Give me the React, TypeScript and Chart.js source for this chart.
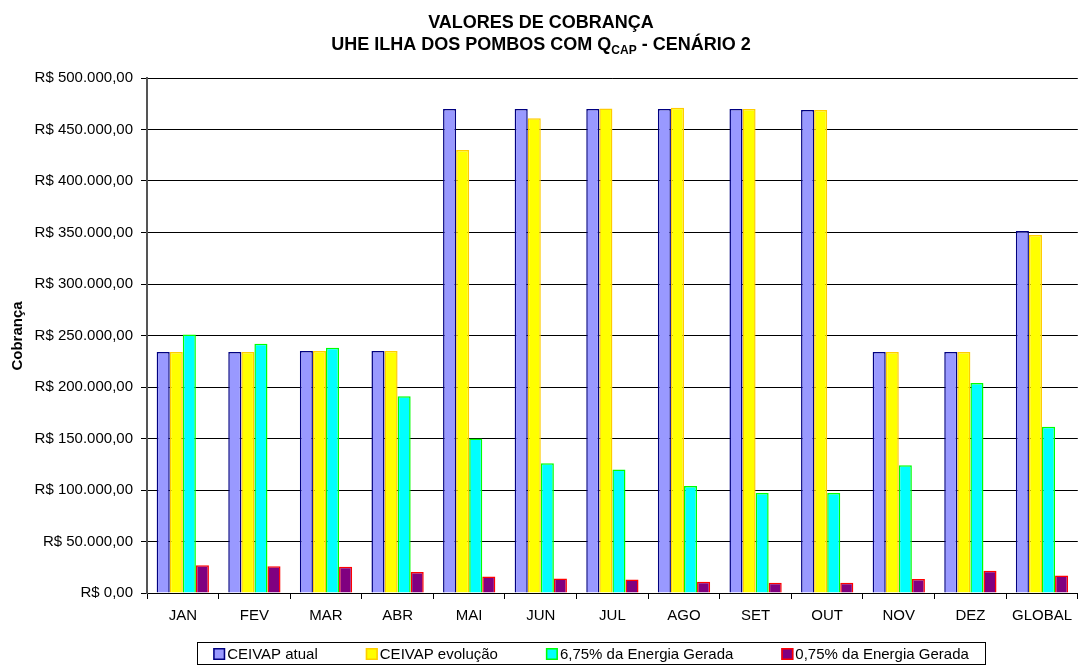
import React, { useEffect, useRef } from "react";
import { Chart, registerables } from "chart.js";

Chart.register(...registerables);

const categories = ["JAN", "FEV", "MAR", "ABR", "MAI", "JUN", "JUL", "AGO", "SET", "OUT", "NOV", "DEZ", "GLOBAL"];
const ceivapAtual = [234000, 234000, 235000, 235000, 470000, 470000, 470000, 470000, 470000, 469000, 234000, 234000, 351500];
const ceivapEvolucao = [234000, 234000, 235000, 235000, 430000, 461000, 470500, 471000, 470000, 469000, 234000, 234000, 347500];
const energia675 = [251000, 242000, 238000, 191000, 150000, 126000, 120000, 104000, 97000, 97000, 124000, 204000, 161500];
const energia075 = [27000, 26000, 25500, 20500, 16000, 14000, 13000, 11000, 10000, 10000, 13500, 21500, 17000];
const seriesNames = ["CEIVAP atual", "CEIVAP evolução", "6,75% da Energia Gerada", "0,75% da Energia Gerada"];
const yTicks = [0, 50000, 100000, 150000, 200000, 250000, 300000, 350000, 400000, 450000, 500000];

const FONT = "'Liberation Sans', Arial, sans-serif";

function formatBRL(v: number): string {
  const int = Math.round(v).toString().replace(/\B(?=(\d{3})+(?!\d))/g, ".");
  return "R$ " + int + ",00";
}

const decorPlugin = {
  id: "decor",
  afterDraw(chart: any) {
    const ctx = chart.ctx;
    ctx.save();
    ctx.fillStyle = "#000";
    ctx.textBaseline = "alphabetic";
    const cx = 541;
    ctx.font = `bold 18px ${FONT}`;
    ctx.textAlign = "center";
    ctx.fillText("VALORES DE COBRANÇA", cx, 28);
    const a = "UHE ILHA DOS POMBOS COM Q";
    const sub = "CAP";
    const b = " - CENÁRIO 2";
    ctx.font = `bold 18px ${FONT}`;
    const wa = ctx.measureText(a).width;
    const wb = ctx.measureText(b).width;
    ctx.font = `bold 12px ${FONT}`;
    const ws = ctx.measureText(sub).width;
    const total = wa + ws + wb;
    let x = cx - total / 2;
    ctx.textAlign = "left";
    ctx.font = `bold 18px ${FONT}`;
    ctx.fillText(a, x, 50);
    x += wa;
    ctx.font = `bold 12px ${FONT}`;
    ctx.fillText(sub, x, 54);
    x += ws;
    ctx.font = `bold 18px ${FONT}`;
    ctx.fillText(b, x, 50);

    // y axis title
    ctx.save();
    ctx.translate(22, 336);
    ctx.rotate(-Math.PI / 2);
    ctx.textAlign = "center";
    ctx.font = `bold 15px ${FONT}`;
    ctx.fillText("Cobrança", 0, 0);
    ctx.restore();

    // legend
    const ds = chart.data.datasets;
    const box = 12;
    const gapBoxText = 2;
    const spacing = 48;
    ctx.font = `15px ${FONT}`;
    const widths = ds.map((d: any) => box + gapBoxText + ctx.measureText(d.label).width);
    const totalW = widths.reduce((s: number, w: number) => s + w, 0) + spacing * (ds.length - 1);
    const frameL = 197, frameR = 985, frameT = 642, frameB = 664;
    const center = (frameL + frameR) / 2;
    let lx = center - totalW / 2;
    const midY = 654;
    ctx.strokeStyle = "#000";
    ctx.lineWidth = 1;
    ctx.strokeRect(frameL + 0.5, frameT + 0.5, frameR - frameL, frameB - frameT);
    ds.forEach((d: any, i: number) => {
      ctx.fillStyle = d.backgroundColor;
      ctx.fillRect(lx, midY - box / 2, box, box);
      ctx.strokeStyle = d.borderColor;
      ctx.lineWidth = 1.5;
      ctx.strokeRect(lx + 0.75, midY - box / 2 + 0.75, box - 1.5, box - 1.5);
      ctx.fillStyle = "#000";
      ctx.textAlign = "left";
      ctx.textBaseline = "middle";
      ctx.fillText(d.label, lx + box + gapBoxText, midY + 1);
      lx += widths[i] + spacing;
    });
    ctx.restore();
  },
};

export default function App() {
  const ref = useRef<HTMLCanvasElement | null>(null);
  useEffect(() => {
    document.body.style.margin = "0";
    const canvas = ref.current;
    if (!canvas) return;
    const chart = new Chart(canvas, {
      type: "bar",
      data: {
        labels: categories,
        datasets: [
          { label: seriesNames[0], data: ceivapAtual, backgroundColor: "#9999FF", borderColor: "#000080", borderWidth: 1.5 },
          { label: seriesNames[1], data: ceivapEvolucao, backgroundColor: "#FFFF00", borderColor: "#FFCC00", borderWidth: 1.5 },
          { label: seriesNames[2], data: energia675, backgroundColor: "#00FFFF", borderColor: "#00FF00", borderWidth: 1.5 },
          { label: seriesNames[3], data: energia075, backgroundColor: "#800080", borderColor: "#FF0000", borderWidth: 1.5 },
        ],
      },
      options: {
        responsive: false,
        animation: false,
        datasets: { bar: { barPercentage: 1, categoryPercentage: 0.73 } },
        layout: { padding: { top: 78, right: 0, left: 0, bottom: 0 } },
        plugins: {
          title: { display: false },
          tooltip: { enabled: false },
          legend: { display: false },
        },
        scales: {
          x: {
            afterFit(scale: any) { scale.height = 72; },
            grid: { display: true, drawOnChartArea: false, drawTicks: true, tickLength: 6, color: "#000", offset: true },
            border: { display: true, color: "#000", width: 1 },
            ticks: { font: { family: FONT, size: 15 }, color: "#000", padding: 8, maxRotation: 0, autoSkip: false },
          },
          y: {
            min: 0,
            max: 500000,
            afterFit(scale: any) { scale.width = 147; },
            afterBuildTicks(scale: any) { scale.ticks = yTicks.map((v) => ({ value: v })); },
            grid: { color: "#000", lineWidth: 1, tickLength: 6, drawTicks: true },
            border: { display: true, color: "#555", width: 2 },
            ticks: { font: { family: FONT, size: 15 }, color: "#000", padding: 8, callback: (v: any) => formatBRL(Number(v)) },
          },
        },
      },
      plugins: [decorPlugin],
    });
    return () => chart.destroy();
  }, []);
  return <canvas ref={ref} width={1080} height={665} style={{ display: "block" }} />;
}
